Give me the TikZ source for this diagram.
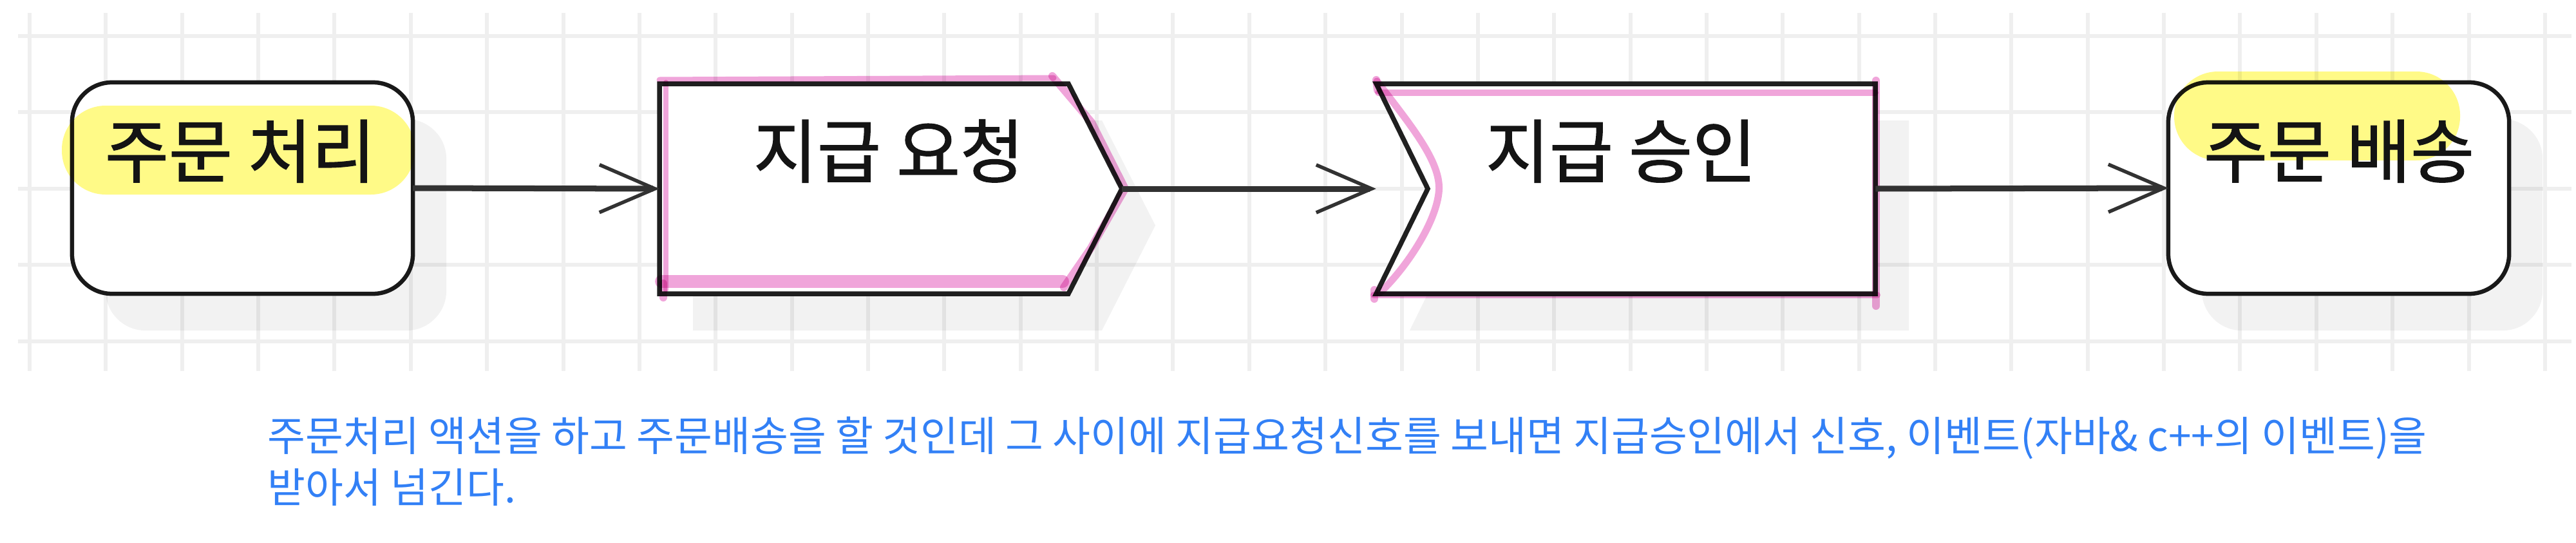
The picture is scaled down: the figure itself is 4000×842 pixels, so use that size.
\documentclass[tikz,border=0pt]{standalone}
\usepackage{fontspec}
\newfontfamily\kr{Noto Sans CJK KR}
\newfontfamily\krm{Noto Sans CJK KR}[FakeBold=1.3]
\usetikzlibrary{arrows.meta,shadows}
\definecolor{gridc}{RGB}{239,239,239}
\definecolor{capblue}{RGB}{50,128,246}
\definecolor{hlyellow}{RGB}{255,250,135}
\definecolor{hlpink}{RGB}{240,165,218}
\definecolor{linec}{RGB}{50,50,50}
\begin{document}
\begin{tikzpicture}[x=0.01cm,y=-0.01cm,
  gridline/.style={draw=gridc, line width=0.06cm},
  procbox/.style={draw=black!90, line width=0.065cm, fill=white, rounded corners=0.62cm,
    minimum width=5.29cm, minimum height=3.28cm, inner sep=0pt, outer sep=0pt,
    drop shadow={shadow xshift=0.52cm, shadow yshift=-0.57cm, fill=black, opacity=0.05}},
  anchorbox/.style={draw=none, inner sep=0pt, outer sep=0pt, minimum height=3.26cm},
  sigline/.style={draw=black!88, line width=0.075cm, fill=white, line join=miter},
  shadowc/.style={fill=black, opacity=0.05},
  hlyel/.style={fill=hlyellow, blend mode=multiply, rounded corners=0.68cm},
  pinkstroke/.style={draw=hlpink, line cap=round, line join=round, blend mode=multiply, line width=0.1cm},
  lbl/.style={anchor=base, inner sep=0pt, font=\krm\fontsize{30.6}{35}\selectfont, text=black!92},
  captext/.style={anchor=base west, inner sep=0pt, font=\kr\fontsize{18.2}{21}\selectfont, text=capblue},
  arr/.style={draw=linec, line width=0.09cm, -{Straight Barb[length=0.86cm, width=0.74cm, line width=0.055cm]}}
]
\useasboundingbox (0,0) rectangle (4000,842);
% grid
\foreach \i in {0,...,33} \draw[gridline] (46+118.36*\i,20) -- (46+118.36*\i,576);
\foreach \j in {0,...,4} \draw[gridline] (28,55.5+118.6*\j) -- (3993,55.5+118.6*\j);

% node 1 : 주문 처리
\node[procbox] (n1) at (376.5,292) {};
% node 2 : 지급 요청 (send signal)
\fill[shadowc] (1076,187) -- (1711,187) -- (1794,350) -- (1711,513) -- (1076,513) -- cycle;
\draw[sigline] (1024,130) -- (1659,130) -- (1742,293) -- (1659,456) -- (1024,456) -- cycle;
\node[anchorbox, minimum width=7.18cm] (n2) at (1383,293) {};
% node 3 : 지급 승인 (accept signal)
\fill[shadowc] (2189,187) -- (2964,187) -- (2964,513) -- (2189,513) -- (2269,350) -- cycle;
\draw[sigline] (2137,130) -- (2912,130) -- (2912,456) -- (2137,456) -- (2217,293) -- cycle;
\node[anchorbox, minimum width=7.75cm] (n3) at (2524.5,293) {};
% node 4 : 주문 배송
\node[procbox] (n4) at (3631.5,292) {};

% yellow highlights
\fill[hlyel] (96,164) rectangle (644,302);
\fill[hlyel] (3376,111) rectangle (3820,249);

% pink strokes on node 2
\draw[pinkstroke, line width=0.09cm] (1024,124) -- (1636,121);
\draw[pinkstroke, line width=0.12cm] (1634,118) -- (1695,190) -- (1747,293) -- (1694,385) -- (1652,446);
\draw[pinkstroke, line width=0.2cm] (1027,437) -- (1650,437);
\draw[pinkstroke, line width=0.08cm] (1034,128) -- (1034,450);
\draw[pinkstroke, line width=0.12cm] (1030,440) -- (1030,462);
% pink strokes on node 3
\draw[pinkstroke, line width=0.12cm] (2137,124) -- (2139,140);
\draw[pinkstroke, line width=0.1cm] (2140,144) -- (2912,144);
\draw[pinkstroke, line width=0.11cm] (2138,126) .. controls (2195,200) and (2240,255) .. (2234,300) .. controls (2228,350) and (2180,420) .. (2142,455);
\draw[pinkstroke, line width=0.12cm] (2913,125) -- (2913,475);
\draw[pinkstroke, line width=0.1cm] (2133,458) -- (2915,458);
\draw[pinkstroke, line width=0.12cm] (2134,450) -- (2134,464);

% labels
\node[lbl] (t1) at (373,275) {주문 처리};
\node[lbl] (t2) at (1380,275) {지급 요청};
\node[lbl] (t3) at (2517,275) {지급 승인};
\node[lbl] (t4) at (3632,275) {주문 배송};

% connectors
\draw[arr] (n1.east) -- (n2.west);
\draw[arr] (n2.east) -- (n3.west);
\draw[arr] (n3.east) -- (n4.west);

% caption
\node[captext] (cap1) at (415,700) {주문처리 액션을 하고 주문배송을 할 것인데 그 사이에 지급요청신호를 보내면 지급승인에서 신호, 이벤트(자바\& c++의 이벤트)을};
\node[captext] (cap2) at (415,780) {받아서 넘긴다.};
\end{tikzpicture}
\end{document}
